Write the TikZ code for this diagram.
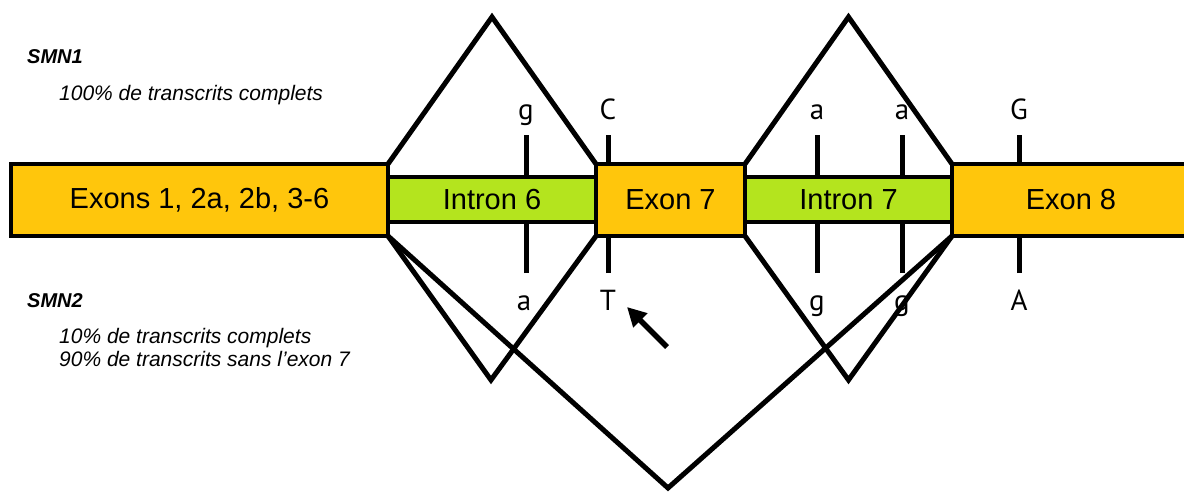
\documentclass[tikz,border=0pt]{standalone}
\usepackage{fontspec}
\setmainfont{Liberation Sans}
\newfontfamily\basefont{PT Sans}
\usetikzlibrary{arrows.meta}

\definecolor{exoncol}{RGB}{255,198,12}
\definecolor{introncol}{RGB}{180,228,30}

\tikzset{
  genebox/.style={draw=black, line width=4pt, rectangle, inner sep=0pt, outer sep=0pt,
    font=\fontsize{29}{31}\selectfont, text=black},
  exonbox/.style={genebox, fill=exoncol, minimum height=72pt},
  intronbox/.style={genebox, fill=introncol, minimum height=45pt},
  splice/.style={draw=black, line width=5pt, line join=miter},
  tickmark/.style={draw=black, line width=5pt},
  basenote/.style={font=\basefont\fontsize{29}{31}\selectfont, anchor=base, inner sep=0pt},
  genename/.style={font=\bfseries\itshape\fontsize{20}{22}\selectfont, anchor=base west, inner sep=0pt},
  ratio/.style={font=\itshape\fontsize{21}{23}\selectfont, anchor=base west, inner sep=0pt},
  pointer/.style={draw=black, line width=5.5pt, -{Triangle[length=19pt,width=19pt]}},
}

\begin{document}
\begin{tikzpicture}[x=1pt, y=-1pt]
  \useasboundingbox (0,0) rectangle (1184,493);
  \clip (0,0) rectangle (1184,493);
  \fill[white] (0,0) rectangle (1184,493);

  % gene name and transcript ratios
  \node[genename] (smn1) at (27,63) {SMN1};
  \node[ratio] (r1) at (59,100) {100\% de transcrits complets};
  \node[genename] (smn2) at (27,307) {SMN2};
  \node[ratio] (r2) at (59,343) {10\% de transcrits complets};
  \node[ratio] (r3) at (59,366) {90\% de transcrits sans l’exon 7};

  % exons and introns
  \node[intronbox, minimum width=208pt] (i6) at (492,199.5) {Intron 6};
  \node[intronbox, minimum width=207pt] (i7) at (848.5,199.5) {Intron 7};
  \node[exonbox, minimum width=377pt] (e16) at (199.5,200) {Exons 1, 2a, 2b, 3-6};
  \node[exonbox, minimum width=149pt] (e7) at (670.5,200) {Exon 7};
  \node[exonbox, minimum width=238pt] (e8) at (1071,200) {Exon 8};

  % nucleotide differences: SMN1 above, SMN2 below
  \node[basenote] (n1) at (526,119) {g};
  \node[basenote] (n2) at (608,119) {C};
  \node[basenote] (n3) at (817,119) {a};
  \node[basenote] (n4) at (902,119) {a};
  \node[basenote] (n5) at (1019,119) {G};
  \node[basenote] (m1) at (524,310) {a};
  \node[basenote] (m2) at (608,310) {T};
  \node[basenote] (m3) at (817,310) {g};
  \node[basenote] (m4) at (902,310) {g};
  \node[basenote] (m5) at (1019,310) {A};

  \foreach \n/\x in {1/526,2/608,3/817,4/902,5/1019}{
    \coordinate (up\n) at (\x,135);
    \coordinate (dn\n) at (\x,273);
  }
  \draw[tickmark] (up1) -- (up1 |- i6.north);
  \draw[tickmark] (up2) -- (up2 |- e7.north);
  \draw[tickmark] (up3) -- (up3 |- i7.north);
  \draw[tickmark] (up4) -- (up4 |- i7.north);
  \draw[tickmark] (up5) -- (up5 |- e8.north);
  \draw[tickmark] (dn1) -- (dn1 |- i6.south);
  \draw[tickmark] (dn2) -- (dn2 |- e7.south);
  \draw[tickmark] (dn3) -- (dn3 |- i7.south);
  \draw[tickmark] (dn4) -- (dn4 |- i7.south);
  \draw[tickmark] (dn5) -- (dn5 |- e8.south);

  % splicing apexes
  \coordinate (top6) at (492,17);
  \coordinate (top7) at (848.5,17);
  \coordinate (low6) at (491,380);
  \coordinate (low7) at (848.5,380);
  \coordinate (skip) at (668,488);

  % SMN1: full splicing
  \draw[splice] (e16.north east) -- (top6) -- (e7.north west);
  \draw[splice] (e7.north east) -- (top7) -- (e8.north west);
  % SMN2: full splicing and exon 7 skipping
  \draw[splice] (e16.south east) -- (low6) -- (e7.south west);
  \draw[splice] (e7.south east) -- (low7) -- (e8.south west);
  \draw[splice] (e16.south east) -- (skip) -- (e8.south west);

  % arrow to the C>T change
  \coordinate (ptail) at (667,347);
  \coordinate (phead) at (627,307);
  \draw[pointer] (ptail) -- (phead);
\end{tikzpicture}
\end{document}
